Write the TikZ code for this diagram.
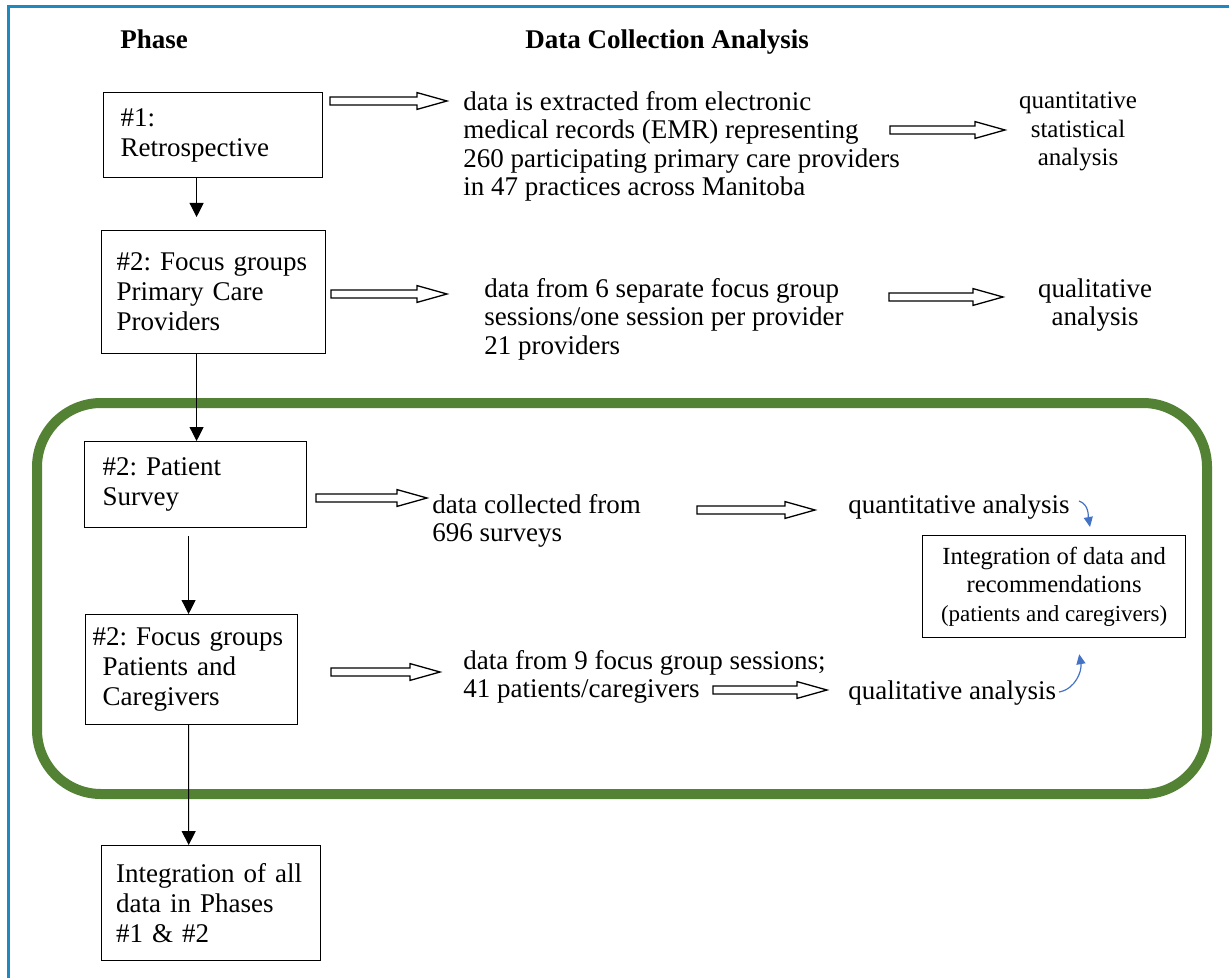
\documentclass[tikz,border=0pt]{standalone}
\usepackage{fontspec}
\setmainfont{Liberation Serif}
\usepackage{xcolor}
\usetikzlibrary{arrows.meta,calc}
\definecolor{frameblue}{RGB}{30,136,192}
\definecolor{groupgreen}{RGB}{84,130,53}
\definecolor{linkblue}{RGB}{68,114,196}
\tikzset{
  phasebox/.style={draw,line width=0.6pt,anchor=north west,align=left,inner xsep=8.5pt,inner ysep=0pt,font=\fontsize{13.5}{15}\selectfont},
  info/.style={anchor=north west,align=left,inner sep=0pt,font=\fontsize{13.5}{14.25}\selectfont},
  flow/.style={-{Triangle[length=7pt,width=7pt]},line width=0.5pt},
  hollow/.style={line width=0.65pt,to path={let \p1=(\tikztostart),\p2=(\tikztotarget) in
    (\x1,\y1+2pt) -- (\x2-15pt,\y1+2pt) -- (\x2-15pt,\y1+4.2pt) -- (\x2,\y1)
    -- (\x2-15pt,\y1-4.2pt) -- (\x2-15pt,\y1-2pt) -- (\x1,\y1-2pt) -- cycle}},
  link/.style={linkblue,line width=0.6pt,-{Triangle[length=5pt,width=4.5pt]}}
}

\begin{document}
\frenchspacing
\begin{tikzpicture}[x=0.5pt,y=-0.5pt]
\useasboundingbox (0,0) rectangle (1229,978);
\draw[frameblue,line width=1.5pt] (8,978) -- (8,7) -- (1229,7);
\draw[groupgreen,line width=5pt,rounded corners=32pt] (37,403) rectangle (1207,794);

\node[anchor=north west,inner sep=0pt,font=\fontsize{13.5}{14.25}\selectfont\bfseries] (hphase) at (120,29) {Phase};
\node[anchor=north west,inner sep=0pt,font=\fontsize{13.5}{14.25}\selectfont\bfseries] (hdata) at (525,29) {Data Collection Analysis};

\node[phasebox,text width=92.5pt,minimum height=42.5pt] (retro) at (103,92) {\#1:\\Retrospective};
\node[phasebox,text width=97pt,inner xsep=7.5pt,minimum height=61.5pt] (focprov) at (101,230) {\#2: Focus groups\\Primary Care\\Providers};
\node[phasebox,text width=93pt,inner xsep=9pt,minimum height=43pt] (survey) at (84,441) {\#2: Patient\\Survey};
\node[phasebox,text width=99pt,inner xsep=3.5pt,minimum height=55pt] (focpat) at (85,614) {\#2: Focus groups\\\hspace*{5pt}Patients and\\\hspace*{5pt}Caregivers};
\node[phasebox,text width=95pt,inner xsep=7.25pt,minimum height=57.5pt] (allint) at (101,845) {Integration of all\\data in Phases\\\#1 \& \#2};
\node[draw,line width=0.6pt,anchor=north west,align=center,minimum width=131.5pt,minimum height=51pt,inner sep=0pt,font=\fontsize{12.3}{14.25}\selectfont] (recint) at (922,535)
  {Integration of data and\\recommendations\\{\fontsize{11.5}{14}\selectfont (patients and caregivers)}};

\node[info] (emr) at (463,91) {data is extracted from electronic\\medical records (EMR) representing\\260 participating primary care providers\\in 47 practices across Manitoba};
\node[info,anchor=north,align=center,font=\fontsize{12.5}{14.25}\selectfont] (quantstat) at (1078,92) {quantitative\\statistical\\analysis};
\node[info] (provdata) at (484,278) {data from 6 separate focus group\\sessions/one session per provider\\21 providers};
\node[info,anchor=north,align=center] (qualprov) at (1095,278) {qualitative\\analysis};
\node[info] (survdata) at (432,494) {data collected from\\696 surveys};
\node[info] (quantpat) at (848,494) {quantitative analysis};
\node[info] (patdata) at (463,650) {data from 9 focus group sessions;\\41 patients/caregivers};
\node[info] (qualpat) at (848,680) {qualitative analysis};

\draw[flow] ([xshift=-8.25pt]retro.south) -- ([xshift=-8.5pt,yshift=6.5pt]focprov.north);
\draw[flow] ([xshift=-8.5pt]focprov.south) -- ([xshift=0.5pt]survey.north);
\draw[flow] ([xshift=-3.5pt,yshift=-4pt]survey.south) -- ([xshift=-1.5pt]focpat.north);
\draw[flow] ([xshift=-1.5pt]focpat.south) -- ([xshift=-11.2pt]allint.north);

\coordinate (h1s) at (330,101); \coordinate (h1e) at (447,101);
\coordinate (h2s) at (890,130); \coordinate (h2e) at (1005,130);
\coordinate (h3s) at (331,294); \coordinate (h3e) at (447,294);
\coordinate (h4s) at (889,297); \coordinate (h4e) at (1003,297);
\coordinate (h5s) at (316,498); \coordinate (h5e) at (427,498);
\coordinate (h6s) at (697,510); \coordinate (h6e) at (815,510);
\coordinate (h7s) at (331,672); \coordinate (h7e) at (440,672);
\coordinate (h8s) at (713,690); \coordinate (h8e) at (827,690);
\foreach \i in {1,...,8}
  \draw[hollow] (h\i s) to (h\i e);

\coordinate (q1) at (1079,501); \coordinate (q2) at (1059,692);
\draw[link] (q1) to[out=-20,in=100] ([yshift=4pt]recint.north -| 1090,0);
\draw[link] (q2) to[out=10,in=-80] ([xshift=-53.5pt,yshift=-8pt]recint.south east);
\end{tikzpicture}
\end{document}
